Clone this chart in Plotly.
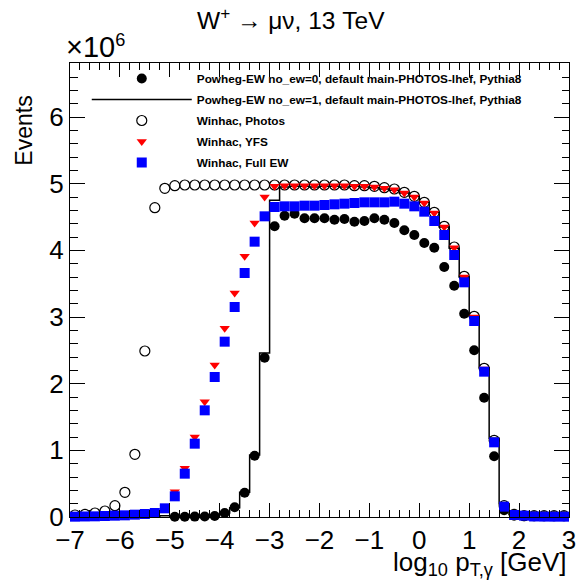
import numpy as np
import plotly.graph_objects as go

# ---------------- data (events in units of 10^6) ----------------
bin_lo, bin_hi, nbins = -7.0, 3.0, 50
bin_edges = np.linspace(bin_lo, bin_hi, nbins + 1)
bin_centers = 0.5 * (bin_edges[:-1] + bin_edges[1:])

powheg_ew0 = [None, None, None, None, None, None, None, None, None, None,
              0.005, 0.005, 0.006, 0.008, 0.015, 0.06, 0.145, 0.365, 0.92, 2.39,
              4.36, 4.52, 4.55, 4.48, 4.48, 4.48, 4.46, 4.47, 4.43, 4.44,
              4.48, 4.46, 4.41, 4.30, 4.23, 4.11, 4.04, 3.75, 3.47, 3.05,
              2.50, 1.79, 0.91, 0.10, 0.02, 0.01, 0.01, 0.01, 0.01, 0.01]

powheg_ew1 = [0.0, 0.0, 0.0, 0.0, 0.0, 0.0, 0.0, 0.0, 0.0, 0.02,
              0.005, 0.005, 0.007, 0.01, 0.02, 0.06, 0.14, 0.37, 0.93, 2.46,
              4.75, 4.95, 4.96, 4.96, 4.95, 4.96, 4.96, 4.95, 4.96, 4.95,
              4.94, 4.92, 4.90, 4.86, 4.81, 4.72, 4.57, 4.35, 4.03, 3.60,
              3.01, 2.24, 1.18, 0.20, 0.04, 0.02, 0.02, 0.02, 0.02, 0.02]

winhac_photos = [0.03, 0.04, 0.06, 0.09, 0.17, 0.37, 0.94, 2.49, 4.64, 4.93,
                 4.97, 4.98, 4.98, 4.98, 4.98, 4.98, 4.98, 4.98, 4.98, 4.98,
                 4.98, 4.98, 4.98, 4.98, 4.98, 4.98, 4.98, 4.98, 4.97, 4.97,
                 4.96, 4.94, 4.92, 4.87, 4.81, 4.72, 4.57, 4.36, 4.05, 3.61,
                 3.01, 2.23, 1.15, 0.17, 0.04, 0.02, 0.02, 0.02, 0.02, 0.02]

winhac_yfs = [0.01, 0.012, 0.015, 0.02, 0.025, 0.03, 0.04, 0.05, 0.07, 0.14,
              0.38, 0.73, 1.20, 1.73, 2.28, 2.83, 3.36, 3.91, 4.41, 4.80,
              4.96, 4.97, 4.97, 4.97, 4.97, 4.97, 4.97, 4.97, 4.96, 4.96,
              4.95, 4.93, 4.91, 4.86, 4.80, 4.71, 4.56, 4.35, 4.04, 3.60,
              3.00, 2.22, 1.14, 0.17, 0.035, 0.02, 0.02, 0.015, 0.015, 0.015]

winhac_fullew = [0.005, 0.008, 0.01, 0.015, 0.02, 0.025, 0.035, 0.045, 0.06, 0.13,
                 0.31, 0.65, 1.10, 1.60, 2.10, 2.63, 3.15, 3.66, 4.13, 4.51,
                 4.65, 4.66, 4.66, 4.67, 4.67, 4.68, 4.69, 4.70, 4.71, 4.72,
                 4.72, 4.72, 4.73, 4.70, 4.66, 4.58, 4.44, 4.23, 3.93, 3.52,
                 2.94, 2.18, 1.12, 0.155, 0.03, 0.02, 0.008, 0.006, 0.005, 0.005]

labels = ["Powheg-EW no_ew=0, default main-PHOTOS-lhef, Pythia8",
          "Powheg-EW no_ew=1, default main-PHOTOS-lhef, Pythia8",
          "Winhac, Photos",
          "Winhac, YFS",
          "Winhac, Full EW"]

# ---------------- figure ----------------
FONT = "Liberation Sans, Arial, Helvetica, sans-serif"
fig = go.Figure()

fig.add_trace(go.Scatter(
    x=bin_centers, y=powheg_ew0, mode="markers", name=labels[0], legendgroup="a",
    marker=dict(symbol="circle", size=10, color="black"), cliponaxis=False))

step_x = list(bin_edges)
step_y = list(powheg_ew1) + [powheg_ew1[-1]]
fig.add_trace(go.Scatter(
    x=step_x, y=step_y, mode="lines", name=labels[1], legendgroup="b",
    line=dict(color="black", width=1.5, shape="hv")))

fig.add_trace(go.Scatter(
    x=bin_centers, y=winhac_photos, mode="markers", name=labels[2], legendgroup="c",
    marker=dict(symbol="circle-open", size=10, color="black", line=dict(width=1.2)),
    cliponaxis=False))

fig.add_trace(go.Scatter(
    x=bin_centers, y=winhac_yfs, mode="markers", name=labels[3], legendgroup="d",
    marker=dict(symbol="triangle-down", size=9, color="#ff0000"), cliponaxis=False))

fig.add_trace(go.Scatter(
    x=bin_centers, y=winhac_fullew, mode="markers", name=labels[4], legendgroup="e",
    marker=dict(symbol="square", size=10, color="#0000ff"), cliponaxis=False))

L, R, T, B = 70, 576, 63, 517
W, H = 584, 586
pw, ph = R - L, B - T

def px(xp):
    return (xp - L) / pw

def py(yp):
    return (B - yp) / ph

axis_common = dict(showgrid=False, zeroline=False, showline=True, linecolor="black",
                   linewidth=1, mirror="ticks", ticks="inside", tickcolor="black",
                   tickwidth=1, tickfont=dict(family=FONT, size=26, color="black"))

fig.update_xaxes(range=[-7, 3], tick0=0, dtick=1, ticklen=14,
                 minor=dict(dtick=0.2, ticks="inside", ticklen=7, tickcolor="black",
                            tickwidth=1, showgrid=False),
                 **axis_common)
fig.update_yaxes(range=[0, 6.81], tick0=0, dtick=1, ticklen=15,
                 minor=dict(dtick=0.2, ticks="inside", ticklen=7.5, tickcolor="black",
                            tickwidth=1, showgrid=False),
                 **axis_common)

annotations = [
    dict(text="W<sup>+</sup> → μν, 13 TeV", x=px(294), y=py(18), xanchor="center",
         yanchor="middle", font=dict(family=FONT, size=24.5, color="black")),
    dict(text="×10<span style='font-size:26px'><sup>6</sup></span>", x=px(64), y=py(47),
         xanchor="left", yanchor="middle",
         font=dict(family=FONT, size=29, color="black")),
    dict(text="Events", textangle=-90, x=px(23), y=py(94), xanchor="center",
         yanchor="top", font=dict(family=FONT, size=23, color="black")),
    dict(text="log<sub>10</sub> p<sub>T,γ</sub> [GeV]", x=1.0, y=py(545),
         xanchor="right", yanchor="top", font=dict(family=FONT, size=26, color="black")),
]
for a in annotations:
    a.update(xref="paper", yref="paper", showarrow=False)

fig.update_layout(
    width=W, height=H,
    margin=dict(l=L, r=W - R, t=T, b=H - B, pad=0),
    paper_bgcolor="white", plot_bgcolor="white",
    font=dict(family=FONT, color="black"),
    annotations=annotations,
    showlegend=True,
    legend=dict(x=px(87), y=py(64), xanchor="left", yanchor="top",
                bgcolor="rgba(0,0,0,0)", borderwidth=0,
                font=dict(family=FONT, size=11.8, color="black", weight="bold"),
                itemwidth=100, tracegroupgap=2, traceorder="grouped"),
)

fig.write_html("out.html",
               config={"displayModeBar": False},
               post_script="document.body.style.margin='0px';"
                           "document.documentElement.style.overflow='hidden';")
